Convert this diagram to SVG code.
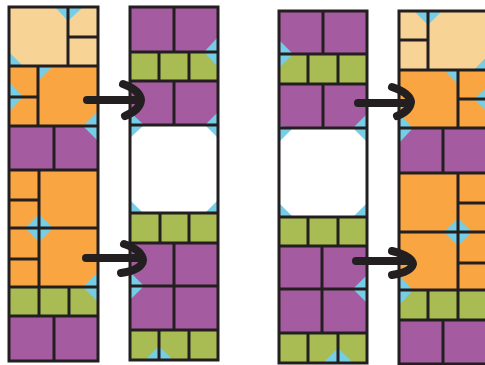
<svg xmlns="http://www.w3.org/2000/svg" width="485" height="365" viewBox="0 0 485 365">
<style>
.lo{fill:#F8D396}
.or{fill:#F9A541}
.pu{fill:#A45BA0}
.gr{fill:#A9BC53}
.wh{fill:#FFFFFF}
.bl{fill:#75CDE6}
.ln{stroke:#231F20;stroke-width:3;fill:none}
.ar{stroke:#231F20;stroke-width:8;fill:none;stroke-linecap:round;stroke-linejoin:round}
</style>
<rect width="485" height="365" fill="#FFFFFF"/>

<g id="col1">
<rect class="lo" x="9" y="7" width="89" height="59"/>
<rect class="or" x="9" y="66" width="89" height="60"/>
<rect class="pu" x="9" y="126" width="89" height="44"/>
<rect class="or" x="9" y="170" width="89" height="117"/>
<rect class="gr" x="9" y="287" width="89" height="29"/>
<rect class="pu" x="9" y="316" width="89" height="45"/>
<polygon class="bl" points="55,7 83,7 68,21"/>
<polygon class="bl" points="9,52 9,66 23,66"/>
<polygon class="bl" points="38,66 53,66 38,81"/>
<polygon class="bl" points="9,82 23,97 9,112"/>
<polygon class="bl" points="98,111 83,126 98,141"/>
<polygon class="bl" points="39,214 53,228 39,242 25,228"/>
<polygon class="bl" points="98,272 83,287 98,302"/>
<path class="ln" d="M68,7V66M68,37H98M9,66H98M38,66V126M9,97H38M9,126H98M54,126V170M9,170H98M39,170V287M9,200H39M9,228H98M9,259H39M9,287H98M39,287V316M69,287V316M9,316H98M54,316V361"/>
<rect class="ln" x="9" y="7" width="89" height="354"/>
</g>

<g id="col2">
<rect class="pu" x="130" y="7" width="88" height="45"/>
<rect class="gr" x="130" y="52" width="88" height="29"/>
<rect class="pu" x="130" y="81" width="88" height="44"/>
<rect class="wh" x="130" y="125" width="88" height="88"/>
<rect class="gr" x="130" y="213" width="88" height="30"/>
<rect class="pu" x="130" y="243" width="88" height="87"/>
<rect class="gr" x="130" y="330" width="88" height="30"/>
<polygon class="bl" points="218,37 204,52 218,67"/>
<polygon class="bl" points="130,112 144,125 130,138"/>
<polygon class="bl" points="218,112 205,125 218,138"/>
<polygon class="bl" points="130,200 130,213 143,213"/>
<polygon class="bl" points="218,200 218,213 205,213"/>
<polygon class="bl" points="130,272 144,286 130,300"/>
<polygon class="bl" points="145,360 159,346 173,360"/>
<path class="ln" d="M174,7V52M130,52H218M159,52V81M189,52V81M130,81H218M174,81V125M130,125H218M130,213H218M160,213V243M189,213V243M130,243H218M174,243V330M130,286H218M130,330H218M159,330V360M189,330V360"/>
<rect class="ln" x="130" y="7" width="88" height="353"/>
</g>

<g id="col3">
<rect class="pu" x="279" y="11" width="88" height="43"/>
<rect class="gr" x="279" y="54" width="88" height="30"/>
<rect class="pu" x="279" y="84" width="88" height="44"/>
<rect class="wh" x="279" y="128" width="88" height="89"/>
<rect class="gr" x="279" y="217" width="88" height="29"/>
<rect class="pu" x="279" y="246" width="88" height="87"/>
<rect class="gr" x="279" y="333" width="88" height="30"/>
<polygon class="bl" points="279,40 293,54 279,68"/>
<polygon class="bl" points="367,114 353,128 367,142"/>
<polygon class="bl" points="279,126 279,142 293,128"/>
<polygon class="bl" points="279,203 279,217 293,217"/>
<polygon class="bl" points="367,203 367,217 353,217"/>
<polygon class="bl" points="367,275 353,289 367,303"/>
<polygon class="bl" points="323,363 338,348 353,363"/>
<path class="ln" d="M323,11V54M279,54H367M308,54V84M338,54V84M279,84H367M323,84V128M279,128H367M279,217H367M308,217V246M338,217V246M279,246H367M322,246V333M279,289H367M279,333H367M308,333V363M338,333V363"/>
<rect class="ln" x="279" y="11" width="88" height="352"/>
</g>

<g id="col4">
<rect class="lo" x="399" y="11" width="89" height="59"/>
<rect class="or" x="399" y="70" width="89" height="58"/>
<rect class="pu" x="399" y="128" width="89" height="45"/>
<rect class="or" x="399" y="173" width="89" height="117"/>
<rect class="gr" x="399" y="290" width="89" height="30"/>
<rect class="pu" x="399" y="320" width="89" height="44"/>
<polygon class="bl" points="414,11 442,11 428,25"/>
<polygon class="bl" points="488,55 488,70 474,70"/>
<polygon class="bl" points="444,70 458,70 458,84"/>
<polygon class="bl" points="488,86 474,99 488,112"/>
<polygon class="bl" points="399,113 413,128 399,143"/>
<polygon class="bl" points="458,218 472,232 458,246 444,232"/>
<polygon class="bl" points="399,275 413,290 399,305"/>
<path class="ln" d="M428,11V70M399,40H428M399,70H488M458,70V128M458,99H488M399,128H488M443,128V173M399,173H488M458,173V290M458,203H488M399,232H488M458,263H488M399,290H488M428,290V320M458,290V320M399,320H488M443,320V364"/>
<rect class="ln" x="399" y="11" width="89" height="353"/>
</g>

<g id="connectors">
<path class="ar" d="M87,100H138"/>
<path class="ar" d="M123,84Q140,90 141,100Q140,110 125,116"/>
<path class="ar" d="M86,258H140"/>
<path class="ar" d="M124,244Q142,250 143,260Q142,270 121,273"/>
<path class="ar" d="M358,103H408"/>
<path class="ar" d="M392,87Q410,93 411,102Q410,111 397,116"/>
<path class="ar" d="M356,261H410"/>
<path class="ar" d="M392,251Q412,256 413,264Q411,272 392,275"/>
</g>
</svg>
